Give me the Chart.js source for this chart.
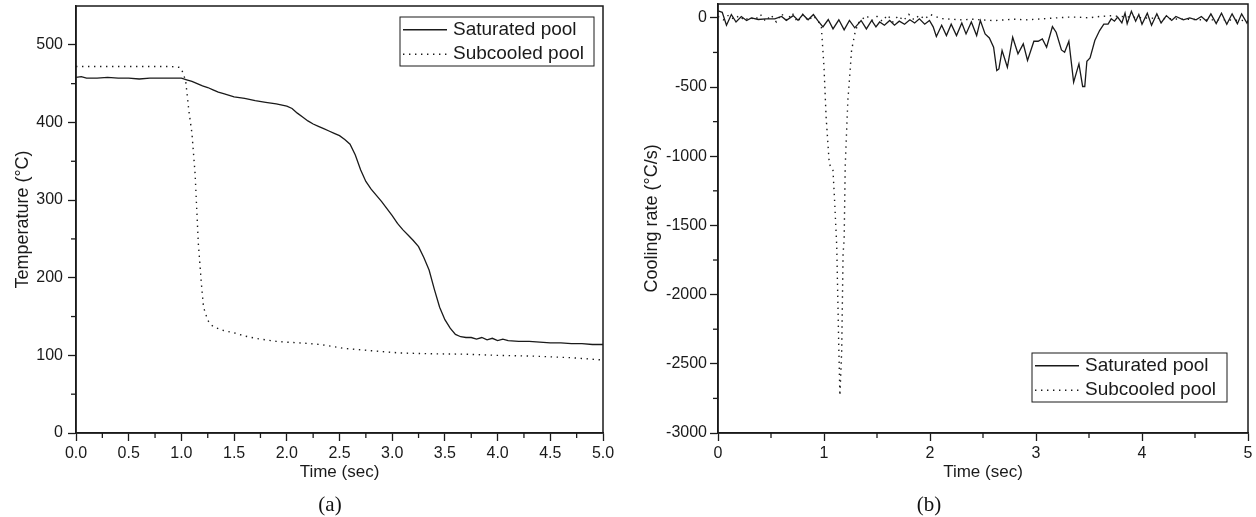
<!DOCTYPE html>
<html>
<head>
<meta charset="utf-8">
<script src="https://cdn.jsdelivr.net/npm/chart.js@4.4.1/dist/chart.umd.min.js"></script>
<style>
    body { margin: 0; background: #fff; width: 1256px; height: 517px; overflow: hidden; position: relative; }
    .panel { position: absolute; top: 0; width: 628px; height: 517px; }
    .cap { position: absolute; font-family: "Liberation Serif", "Times New Roman", serif; font-size: 21px; color: #111; transform: translateX(-50%); }
</style>
</head>
<body>
<div class="panel" style="left:0"><canvas id="chartA"></canvas></div>
<div class="panel" style="left:628px"><canvas id="chartB"></canvas></div>
<div class="cap" style="left:330px; top:492px">(a)</div>
<div class="cap" style="left:929px; top:492px">(b)</div>
<script>
// (a) Temperature vs time
const satTimeA = [0, 0.05, 0.1, 0.2, 0.3, 0.4, 0.5, 0.6, 0.7, 0.8, 0.9, 1.0, 1.05, 1.1, 1.15, 1.2, 1.25, 1.3, 1.35, 1.4, 1.5, 1.6, 1.7, 1.8, 1.9, 2.0, 2.05, 2.1, 2.15, 2.2, 2.25, 2.3, 2.35, 2.4, 2.45, 2.5, 2.55, 2.6, 2.65, 2.7, 2.75, 2.8, 2.85, 2.9, 2.95, 3.0, 3.05, 3.1, 3.15, 3.2, 3.25, 3.3, 3.35, 3.4, 3.45, 3.5, 3.55, 3.6, 3.65, 3.7, 3.75, 3.8, 3.85, 3.9, 3.95, 4.0, 4.05, 4.1, 4.2, 4.3, 4.4, 4.5, 4.6, 4.7, 4.8, 4.9, 5.0];
const satTemp = [458, 459, 457, 457, 458, 457, 457, 456, 457, 457, 457, 457, 455, 453, 450, 447, 445, 442, 439, 437, 433, 431, 428, 426, 424, 421, 418, 412, 407, 402, 398, 395, 392, 389, 386, 383, 378, 372, 358, 339, 324, 314, 306, 298, 289, 280, 270, 262, 255, 248, 240, 226, 210, 185, 162, 146, 135, 127, 124, 123, 123, 121, 123, 120, 122, 119, 121, 119, 118, 118, 117, 116, 116, 115, 115, 114, 114];
const subTimeA = [0, 0.5, 0.9, 0.98, 1.0, 1.04, 1.07, 1.1, 1.13, 1.16, 1.19, 1.21, 1.25, 1.3, 1.4, 1.5, 1.6, 1.7, 1.8, 1.9, 2.0, 2.13, 2.32, 2.54, 2.8, 3.08, 3.4, 3.7, 4.0, 4.34, 4.7, 5.0];
const subTemp = [472, 472, 472, 471, 469, 454, 416, 386, 334, 245, 192, 162, 145, 137, 132, 129, 125, 122, 120, 118, 117, 116, 114, 109, 106, 103, 102, 101.5, 100, 99, 97, 94];

// (b) Cooling rate vs time
const satTimeB = [0, 0.04, 0.08, 0.126, 0.17, 0.22, 0.27, 0.315, 0.38, 0.45, 0.535, 0.6, 0.645, 0.71, 0.755, 0.8, 0.85, 0.9, 0.94, 0.99, 1.04, 1.085, 1.14, 1.19, 1.24, 1.29, 1.35, 1.4, 1.45, 1.49, 1.525, 1.57, 1.62, 1.665, 1.71, 1.76, 1.81, 1.855, 1.9, 1.95, 1.995, 2.03, 2.06, 2.11, 2.155, 2.2, 2.25, 2.3, 2.34, 2.39, 2.44, 2.475, 2.52, 2.56, 2.6, 2.63, 2.65, 2.68, 2.73, 2.78, 2.83, 2.88, 2.92, 2.98, 3.02, 3.06, 3.1, 3.155, 3.19, 3.24, 3.27, 3.31, 3.355, 3.405, 3.44, 3.46, 3.48, 3.51, 3.555, 3.6, 3.64, 3.68, 3.71, 3.74, 3.77, 3.81, 3.84, 3.86, 3.9, 3.94, 3.97, 4.0, 4.05, 4.09, 4.14, 4.18, 4.23, 4.28, 4.32, 4.39, 4.45, 4.51, 4.56, 4.61, 4.65, 4.7, 4.75, 4.8, 4.85, 4.9, 4.94, 4.99, 5.0];
const satRate = [50, 40, -53, 24, -30, 9, -19, 0, -12, -8, -7, 10, -18, 16, -18, 24, -14, 24, -19, -65, -12, -80, -14, -87, -19, -72, -19, -80, -19, -65, -30, -53, -19, -53, -24, -46, -14, -37, -7, -46, -19, -65, -135, -53, -128, -46, -128, -37, -116, -30, -128, -19, -116, -145, -212, -381, -369, -236, -357, -140, -260, -188, -308, -169, -169, -152, -212, -63, -104, -232, -248, -169, -465, -333, -496, -496, -314, -290, -164, -92, -46, -46, -7, -24, 5, -37, 34, -42, 48, -24, 24, -46, 34, -53, 29, -37, 16, -19, 10, -14, 0, -14, 10, -24, 29, -42, 34, -46, 29, -42, 29, -37, -20];
const subTimeB = [0, 0.05, 0.1, 0.15, 0.2, 0.25, 0.3, 0.35, 0.4, 0.45, 0.5, 0.55, 0.6, 0.65, 0.7, 0.75, 0.8, 0.85, 0.9, 0.95, 0.975, 1.0, 1.02, 1.05, 1.085, 1.1, 1.12, 1.14, 1.15, 1.167, 1.18, 1.19, 1.2, 1.225, 1.26, 1.29, 1.32, 1.36, 1.4, 1.45, 1.5, 1.55, 1.6, 1.65, 1.7, 1.75, 1.8, 1.85, 1.9, 1.95, 2.0, 2.1, 2.2, 2.3, 2.4, 2.5, 2.6, 2.7, 2.8, 2.9, 3.0, 3.1, 3.2, 3.3, 3.4, 3.5, 3.6, 3.7, 3.8, 3.9, 4.0, 4.2, 4.4, 4.6, 4.8, 5.0];
const subRate = [10, -15, 20, -10, 15, -20, 5, -15, 25, -25, 20, -30, 30, -20, 35, -30, 25, -20, 15, -30, -68, -357, -718, -1055, -1103, -1320, -1650, -2404, -2730, -2404, -1703, -1609, -1080, -598, -236, -116, -40, -10, 15, -20, 10, -25, 20, -30, 15, -20, 25, -15, 20, -10, 25, -5, -10, -15, -10, -15, -20, -15, -10, -15, -10, -5, 0, 5, 5, 0, 10, 15, 10, 5, 0, -5, -10, -15, -15, -20];

const seriesLabels = ['Saturated pool', 'Subcooled pool'];
const xTicksA = [0, 0.5, 1, 1.5, 2, 2.5, 3, 3.5, 4, 4.5, 5];
const yTicksA = [0, 100, 200, 300, 400, 500];
const xTicksB = [0, 1, 2, 3, 4, 5];
const yTicksB = [-3000, -2500, -2000, -1500, -1000, -500, 0];

const ink = '#1a1a1a';
const sans = '"Liberation Sans", Arial, sans-serif';

function pairs(xs, ys) {
    return xs.map((x, i) => ({ x: x, y: ys[i] }));
}

// Box around the plot area
const frame = {
    id: 'frame',
    afterDraw(chart) {
        const { ctx, chartArea: a } = chart;
        ctx.save();
        ctx.strokeStyle = ink;
        ctx.lineWidth = 1.5;
        ctx.strokeRect(a.left, a.top, a.right - a.left, a.bottom - a.top);
        ctx.restore();
    }
};

// Short unlabeled ticks between the major ones
const minorTicks = {
    id: 'minorTicks',
    afterDraw(chart, args, opts) {
        const { ctx } = chart;
        const xs = chart.scales.x, ys = chart.scales.y;
        ctx.save();
        ctx.strokeStyle = ink;
        ctx.lineWidth = 1.3;
        for (let v = xs.min + opts.x / 2; v < xs.max; v += opts.x) {
            const px = xs.getPixelForValue(v);
            ctx.beginPath();
            ctx.moveTo(px, xs.top);
            ctx.lineTo(px, xs.top + opts.len);
            ctx.stroke();
        }
        for (let v = opts.yStart; v < ys.max; v += opts.y) {
            const py = ys.getPixelForValue(v);
            ctx.beginPath();
            ctx.moveTo(ys.right, py);
            ctx.lineTo(ys.right - opts.len, py);
            ctx.stroke();
        }
        ctx.restore();
    }
};

// Boxed legend inside the plot area
const boxLegend = {
    id: 'boxLegend',
    afterDraw(chart, args, opts) {
        const { ctx, chartArea: a } = chart;
        const left = opts.right != null ? a.right - opts.right - opts.w : a.left + opts.left;
        const top = opts.bottom != null ? a.bottom - opts.bottom - opts.h : a.top + opts.top;
        ctx.save();
        ctx.fillStyle = '#fff';
        ctx.fillRect(left, top, opts.w, opts.h);
        ctx.strokeStyle = ink;
        ctx.lineWidth = 1;
        ctx.strokeRect(left, top, opts.w, opts.h);
        ctx.font = '19px ' + sans;
        ctx.textBaseline = 'middle';
        chart.data.datasets.forEach((ds, i) => {
            const y = top + opts.h * (i + 0.5) / 2 + 0.5;
            ctx.strokeStyle = ds.borderColor;
            ctx.lineWidth = ds.borderWidth;
            ctx.setLineDash(ds.borderDash || []);
            ctx.beginPath();
            ctx.moveTo(left + 3, y);
            ctx.lineTo(left + 47, y);
            ctx.stroke();
            ctx.setLineDash([]);
            ctx.fillStyle = ink;
            ctx.fillText(ds.label, left + 53, y);
        });
        ctx.restore();
    }
};

function makeScales(cfg) {
    const tickFont = { family: sans, size: 16 };
    return {
        x: {
            type: 'linear',
            min: cfg.xMin, max: cfg.xMax,
            afterBuildTicks: s => { s.ticks = cfg.xTicks.map(v => ({ value: v })); },
            afterFit: s => { s.height = 84; s.paddingLeft = 0; s.paddingRight = 0; },
            border: { display: true, color: ink, width: 1.5 },
            grid: { display: true, drawOnChartArea: false, drawTicks: true, tickLength: 8, tickColor: ink, tickWidth: 1.3 },
            ticks: { color: ink, font: tickFont, padding: 3, maxRotation: 0, callback: cfg.xFormat },
            title: { display: true, text: 'Time (sec)', color: ink, font: { family: sans, size: 17 }, padding: { bottom: cfg.xTitlePad } }
        },
        y: {
            type: 'linear',
            min: cfg.yMin, max: cfg.yMax,
            afterBuildTicks: s => { s.ticks = cfg.yTicks.map(v => ({ value: v })); },
            afterFit: s => { s.width = cfg.yWidth; s.paddingTop = 0; s.paddingBottom = 0; },
            border: { display: true, color: ink, width: 1.5 },
            grid: { display: true, drawOnChartArea: false, drawTicks: true, tickLength: 8, tickColor: ink, tickWidth: 1.3 },
            ticks: { color: ink, font: tickFont, padding: cfg.yPad, callback: v => String(v) },
            title: { display: true, text: cfg.yTitle, color: ink, font: { family: sans, size: 18 }, padding: { top: cfg.yTitlePad } }
        }
    };
}

function makeDatasets(satX, satY, subX, subY) {
    return [
        {
            label: seriesLabels[0],
            data: pairs(satX, satY),
            borderColor: ink, borderWidth: 1.3,
            pointRadius: 0, tension: 0, fill: false
        },
        {
            label: seriesLabels[1],
            data: pairs(subX, subY),
            borderColor: ink, borderWidth: 1.4, borderDash: [1.4, 4.6],
            pointRadius: 0, tension: 0, fill: false
        }
    ];
}

new Chart(document.getElementById('chartA'), {
    type: 'line',
    data: { datasets: makeDatasets(satTimeA, satTemp, subTimeA, subTemp) },
    options: {
        responsive: true,
        maintainAspectRatio: false,
        animation: false,
        layout: { padding: { left: 0, top: 6, right: 25, bottom: 0 } },
        plugins: {
            legend: { display: false },
            tooltip: { enabled: false },
            minorTicks: { x: 0.5, y: 100, yStart: 50, len: 5 },
            boxLegend: { right: 9, top: 11, w: 194, h: 49 }
        },
        scales: makeScales({
            xMin: 0, xMax: 5, xTicks: xTicksA, xFormat: v => v.toFixed(1), xTitlePad: 34,
            yMin: 0, yMax: 550, yTicks: yTicksA, yWidth: 76, yPad: 5,
            yTitle: 'Temperature (°C)', yTitlePad: 12
        })
    },
    plugins: [frame, minorTicks, boxLegend]
});

new Chart(document.getElementById('chartB'), {
    type: 'line',
    data: { datasets: makeDatasets(satTimeB, satRate, subTimeB, subRate) },
    options: {
        responsive: true,
        maintainAspectRatio: false,
        animation: false,
        layout: { padding: { left: 0, top: 4, right: 8, bottom: 0 } },
        plugins: {
            legend: { display: false },
            tooltip: { enabled: false },
            minorTicks: { x: 1, y: 500, yStart: -2750, len: 5 },
            boxLegend: { right: 21, bottom: 31, w: 195, h: 49 }
        },
        scales: makeScales({
            xMin: 0, xMax: 5, xTicks: xTicksB, xFormat: v => String(v), xTitlePad: 34,
            yMin: -3000, yMax: 100, yTicks: yTicksB, yWidth: 90, yPad: 3,
            yTitle: 'Cooling rate (°C/s)', yTitlePad: 13
        })
    },
    plugins: [frame, minorTicks, boxLegend]
});
</script>
</body>
</html>
